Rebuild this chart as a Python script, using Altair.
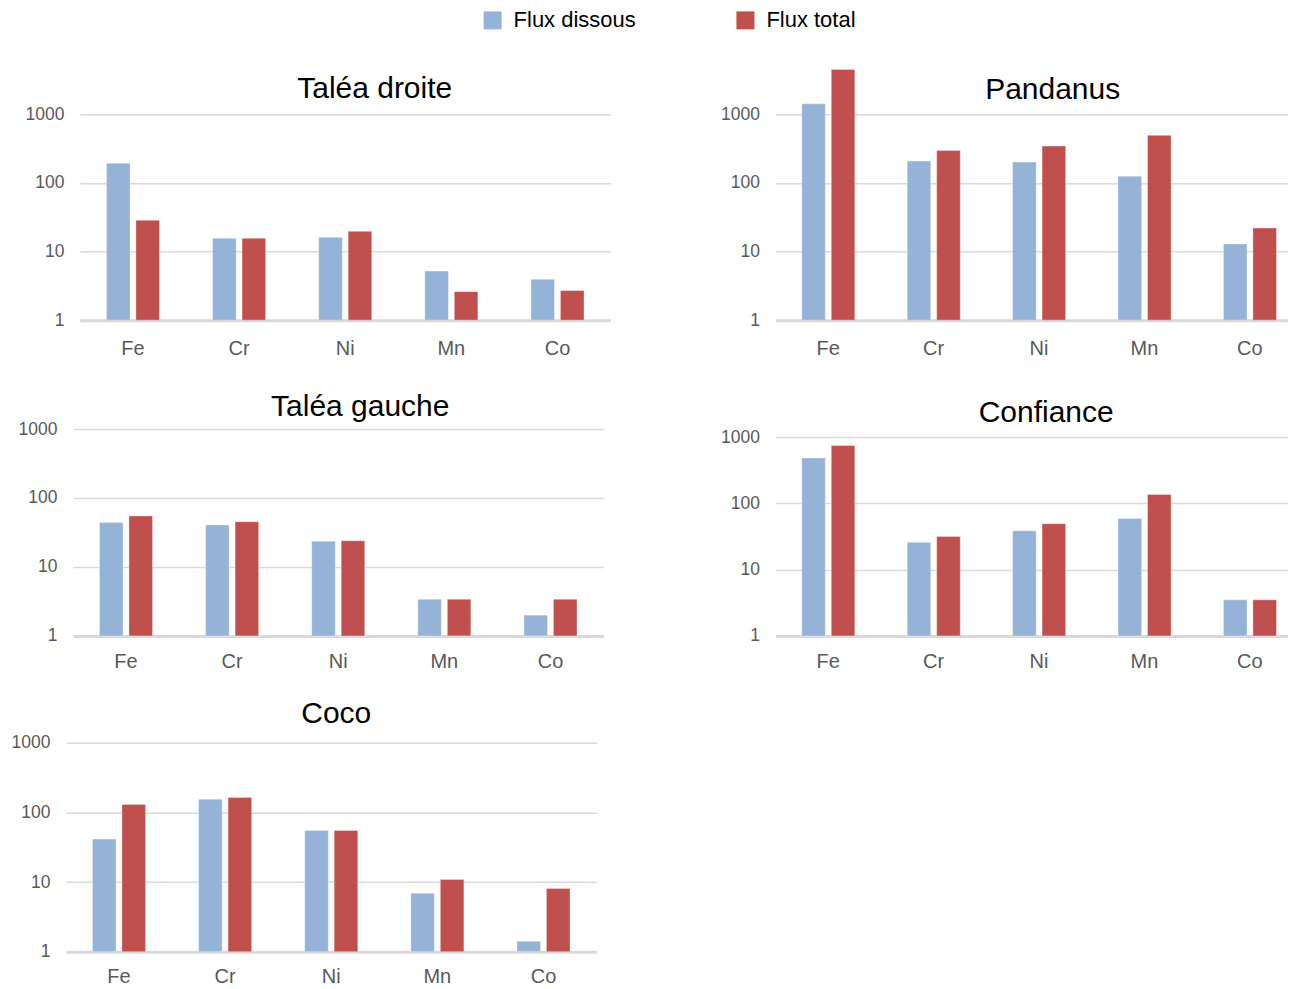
import altair as alt
import pandas as pd

FONT = "Liberation Sans, Arial, sans-serif"

elements = ["Fe", "Cr", "Ni", "Mn", "Co"]
series_names = ["Flux dissous", "Flux total"]
colors = ["#95B3D7", "#C0504D"]
y_ticks = [1, 10, 100, 1000]

talea_droite_dissous = [193, 15.6, 16.1, 5.2, 3.95]
talea_droite_total = [28.6, 15.6, 19.7, 2.6, 2.7]
pandanus_dissous = [1420, 208, 201, 125, 12.9]
pandanus_total = [4500, 298, 344, 493, 22]
talea_gauche_dissous = [44, 40.6, 23.5, 3.4, 2.0]
talea_gauche_total = [55, 45.4, 24, 3.4, 3.4]
confiance_dissous = [484, 25.8, 38.5, 59, 3.5]
confiance_total = [744, 31.7, 49.2, 136, 3.5]
coco_dissous = [41.4, 155, 55, 6.9, 1.41]
coco_total = [130, 164, 55, 10.9, 8.1]


def panel(name, dissous, total, width, height, title_offset, title_dx, right=False, xpad=18):
    df = pd.DataFrame({
        "element": elements * 2,
        "series": [series_names[0]] * 5 + [series_names[1]] * 5,
        "value": list(dissous) + list(total),
    })
    if right:
        xscale = alt.Scale(paddingInner=0.5, paddingOuter=0.1813, align=0.69)
    else:
        xscale = alt.Scale(paddingInner=0.5, paddingOuter=0.25)
    return alt.Chart(df).mark_bar(stroke="white", strokeWidth=1, strokeOpacity=0.35).encode(
        x=alt.X("element:N", sort=elements, scale=xscale,
                axis=alt.Axis(title=None, labelAngle=0, ticks=False, domain=True,
                              domainColor="#D9D9D9", domainWidth=3, grid=False,
                              labelFontSize=20, labelColor="#595959", labelFont=FONT,
                              labelPadding=xpad)),
        xOffset=alt.XOffset("series:N", sort=series_names,
                            scale=alt.Scale(paddingInner=0.2, paddingOuter=0)),
        y=alt.Y("value:Q", stack=None,
                scale=alt.Scale(type="log", domain=[1, 1000], nice=False),
                axis=alt.Axis(title=None, values=y_ticks, format="d", grid=True,
                              gridColor="#D9D9D9", gridWidth=1.5, domain=False, ticks=False,
                              labelFontSize=17.5, labelColor="#595959", labelFont=FONT,
                              labelPadding=16)),
        color=alt.Color("series:N", sort=series_names,
                        scale=alt.Scale(domain=series_names, range=colors),
                        legend=alt.Legend(title=None, orient="none", legendX=472, legendY=-105,
                                          direction="horizontal", symbolType="square",
                                          symbolSize=324, symbolStrokeWidth=0,
                                          labelFontSize=22, labelColor="#000000", labelFont=FONT,
                                          labelOffset=10, columnPadding=98, padding=0)),
    ).properties(
        width=width, height=height,
        title=alt.TitleParams(name, fontSize=30, font=FONT, fontWeight="normal", color="#000000",
                              anchor="middle", frame="group", offset=title_offset, dx=title_dx),
    )


def spacer():
    return alt.Chart(pd.DataFrame({"s": [0]})).mark_point(size=0, opacity=0, strokeWidth=0).encode(
        x=alt.X("s:Q", axis=None), y=alt.Y("s:Q", axis=None)
    ).properties(width=1, height=1)


p1 = panel("Taléa droite", talea_droite_dissous, talea_droite_total, 531, 206, 1, 29.5)
p2 = panel("Pandanus", pandanus_dissous, pandanus_total, 513, 206, -36, 21, right=True)
p3 = panel("Taléa gauche", talea_gauche_dissous, talea_gauche_total, 531, 207, -1.5, 22, xpad=16)
p4 = panel("Confiance", confiance_dissous, confiance_total, 513, 199, 0.5, 14.5, right=True, xpad=16)
p5 = panel("Coco", coco_dissous, coco_total, 531, 209, 4.5, 5, xpad=15)

left = alt.vconcat(
    alt.hconcat(spacer(), p1, spacing=14),
    alt.vconcat(
        alt.hconcat(spacer(), p3, spacing=7),
        alt.hconcat(spacer(), p5, spacing=0),
        spacing=27),
    spacing=33)
right = alt.vconcat(p2, p4, spacing=39)

chart = alt.hconcat(left, right, spacing=110).properties(
    padding={"left": 2, "top": 1, "right": 0, "bottom": 0}
).configure_view(stroke=None)

chart.save("out.html", embed_options={"renderer": "svg", "actions": False})
